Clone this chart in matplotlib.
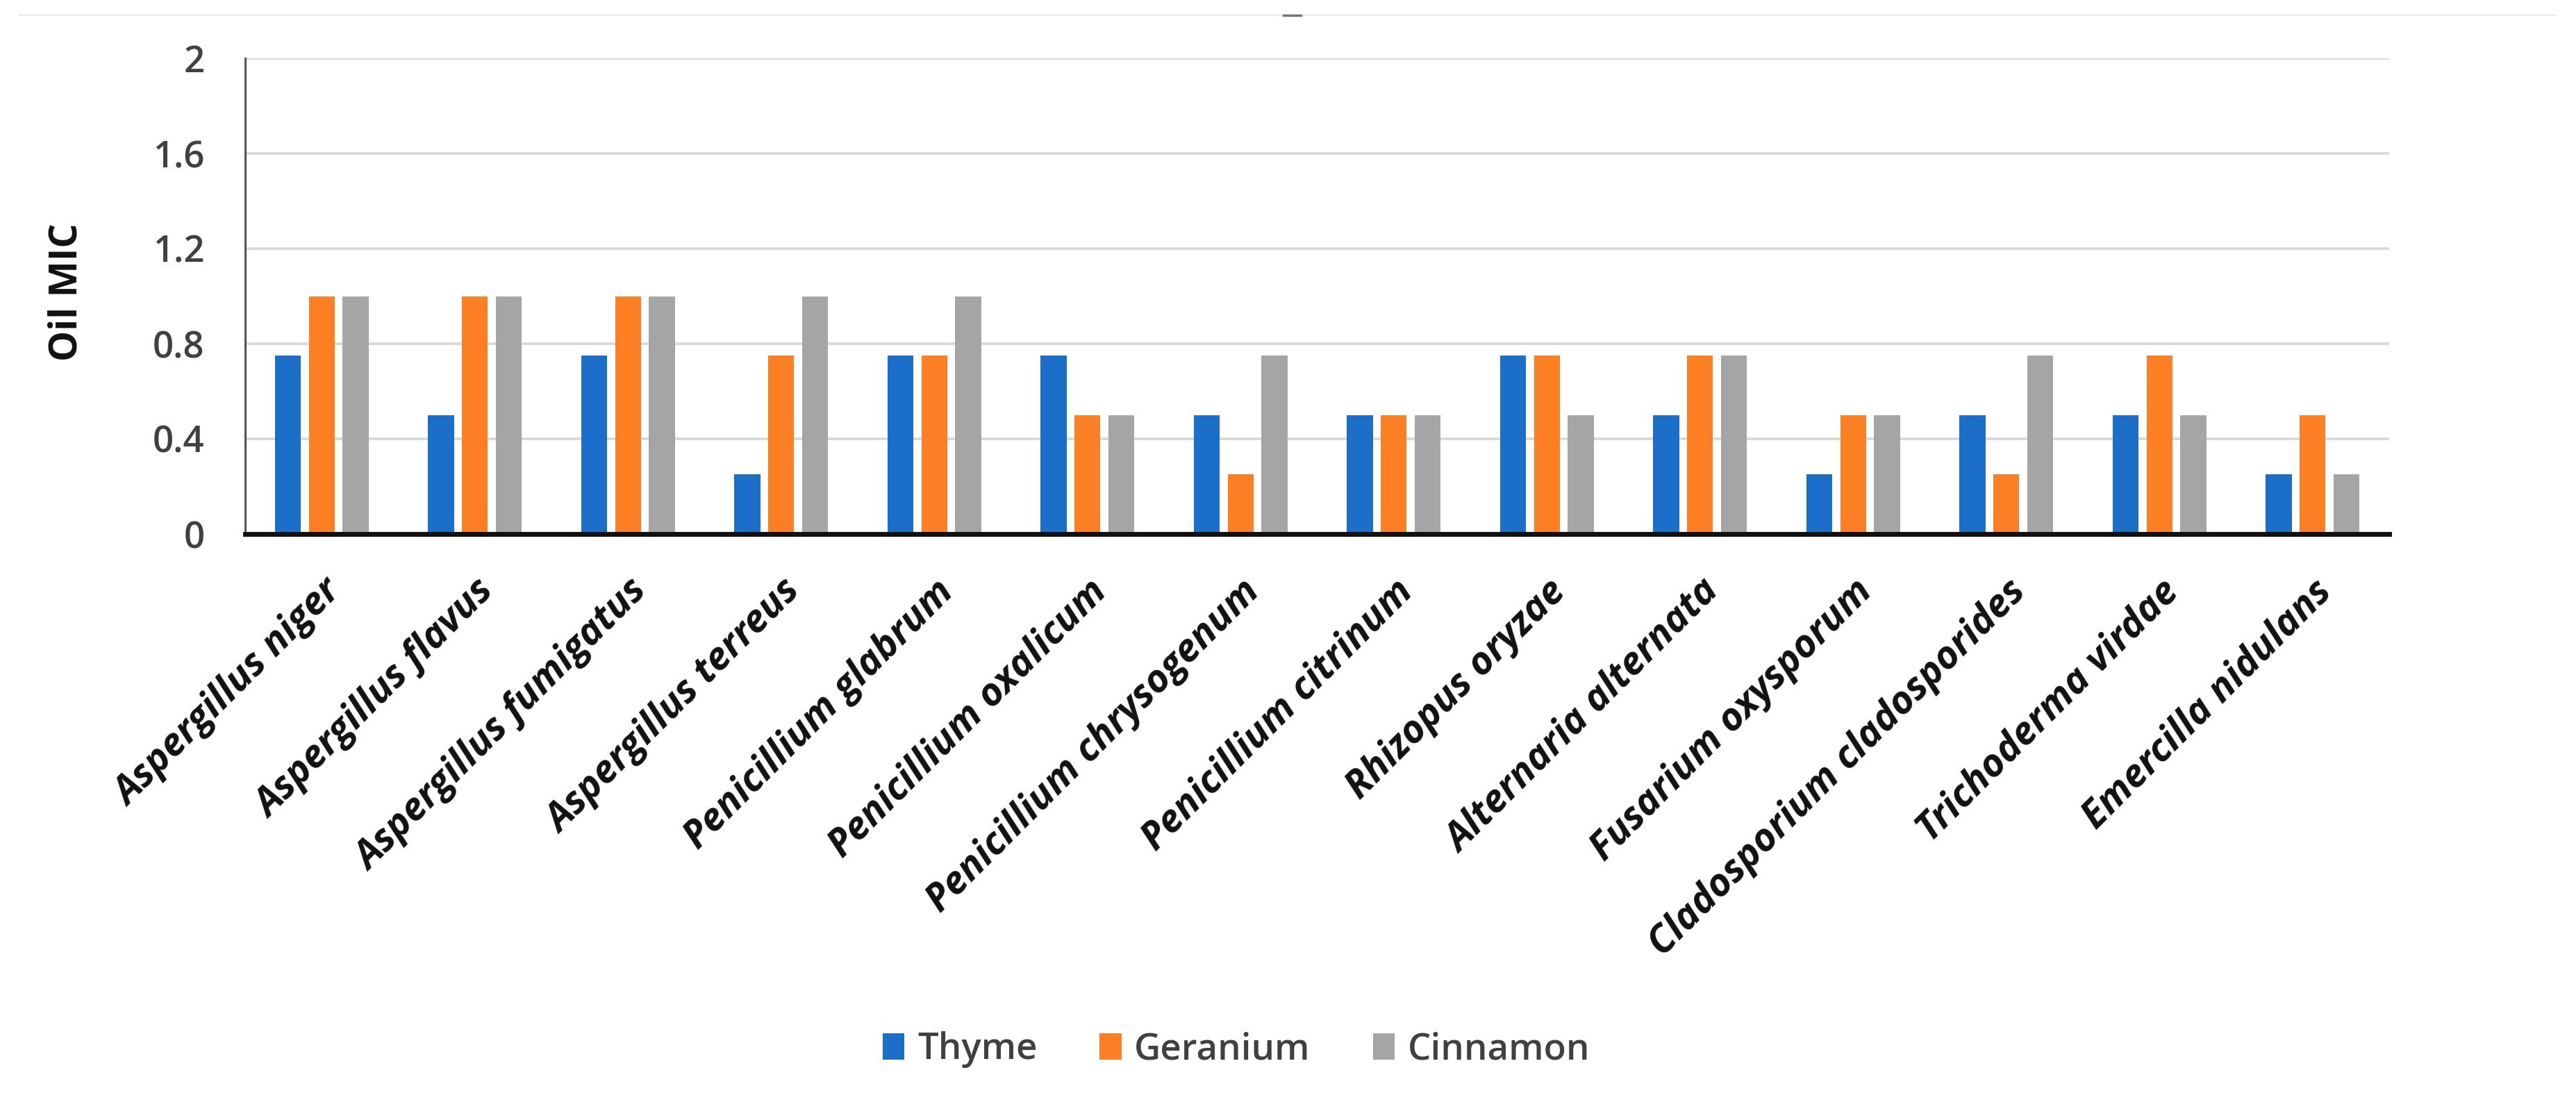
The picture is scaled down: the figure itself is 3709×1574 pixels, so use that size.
import matplotlib
matplotlib.use("Agg")
import matplotlib.pyplot as plt
from matplotlib.lines import Line2D
import numpy as np

plt.rcParams['font.family'] = ['Open Sans', 'DejaVu Sans']

species = ["Aspergillus niger", "Aspergillus flavus", "Aspergillus fumigatus",
           "Aspergillus terreus", "Penicillium glabrum", "Penicillium oxalicum",
           "Penicillium chrysogenum", "Penicillium citrinum", "Rhizopus oryzae",
           "Alternaria alternata", "Fusarium oxysporum", "Cladosporium cladosporides",
           "Trichoderma virdae", "Emercilla nidulans"]
thyme = [0.75, 0.5, 0.75, 0.25, 0.75, 0.75, 0.5, 0.5, 0.75, 0.5, 0.25, 0.5, 0.5, 0.25]
geranium = [1.0, 1.0, 1.0, 0.75, 0.75, 0.5, 0.25, 0.5, 0.75, 0.75, 0.5, 0.25, 0.75, 0.5]
cinnamon = [1.0, 1.0, 1.0, 1.0, 1.0, 0.5, 0.75, 0.5, 0.5, 0.75, 0.5, 0.75, 0.5, 0.25]
series_names = ["Thyme", "Geranium", "Cinnamon"]
yticks = [0, 0.4, 0.8, 1.2, 1.6, 2]
ytick_labels = ["0", "0.4", "0.8", "1.2", "1.6", "2"]

colors = ["#1b6fc8", "#fd7f23", "#a5a5a5"]

fig = plt.figure(figsize=(37.09, 15.74), dpi=100)
ax = fig.add_axes([353 / 3709, 1 - 769 / 1574, (3440 - 353) / 3709, (769 - 84) / 1574])

x = np.arange(len(species))
pitch = 0.22
width = 0.17
for i, (vals, name) in enumerate(zip([thyme, geranium, cinnamon], series_names)):
    ax.bar(x + (i - 1) * pitch, vals, width=width, color=colors[i], label=name, zorder=3)

ax.set_xlim(-0.5, len(species) - 0.5)
ax.set_ylim(0, 2)
ax.set_yticks(yticks)
ax.set_yticklabels(ytick_labels, fontsize=38, color="#404040", fontweight='semibold')
ax.yaxis.grid(True, color="#d9d9d9", linewidth=2.8, zorder=0)
ax.set_axisbelow(True)
ax.tick_params(axis='y', length=0, pad=42)
ax.tick_params(axis='x', length=0, pad=40)
ax.set_xticks(x)
ax.set_xticklabels(species, rotation=45, ha='right', va='top', rotation_mode='anchor',
                   fontsize=40, fontstyle='italic', fontweight='bold', color='#111111')

for s in ['top', 'right']:
    ax.spines[s].set_visible(False)
ax.spines['left'].set_color('#555555')
ax.spines['left'].set_linewidth(2.2)
ax.spines['bottom'].set_color('#111111')
ax.spines['bottom'].set_linewidth(5)
ax.spines['bottom'].set_zorder(4)

fig.text(96 / 3709, 1 - 421 / 1574, "Oil MIC", rotation=90, ha='center', va='center',
         fontsize=40, fontweight='bold', color='#111111')

leg = fig.legend(loc='center', bbox_to_anchor=(1780 / 3709, 1 - 1512 / 1574), ncol=3,
                 frameon=False, prop={'size': 38, 'weight': 'semibold'},
                 handlelength=0.6, handleheight=0.75,
                 handletextpad=0.35, columnspacing=1.7)
for t in leg.get_texts():
    t.set_color('#404040')

# faint top rule and small dash
fig.add_artist(Line2D([27 / 3709, 3680 / 3709], [1 - 22 / 1574] * 2, color='#ececec', linewidth=1.5))
fig.add_artist(Line2D([1848 / 3709, 1873 / 3709], [1 - 22 / 1574] * 2, color='#777777', linewidth=2.5))

fig.savefig("out.png", dpi=100, facecolor='white')
